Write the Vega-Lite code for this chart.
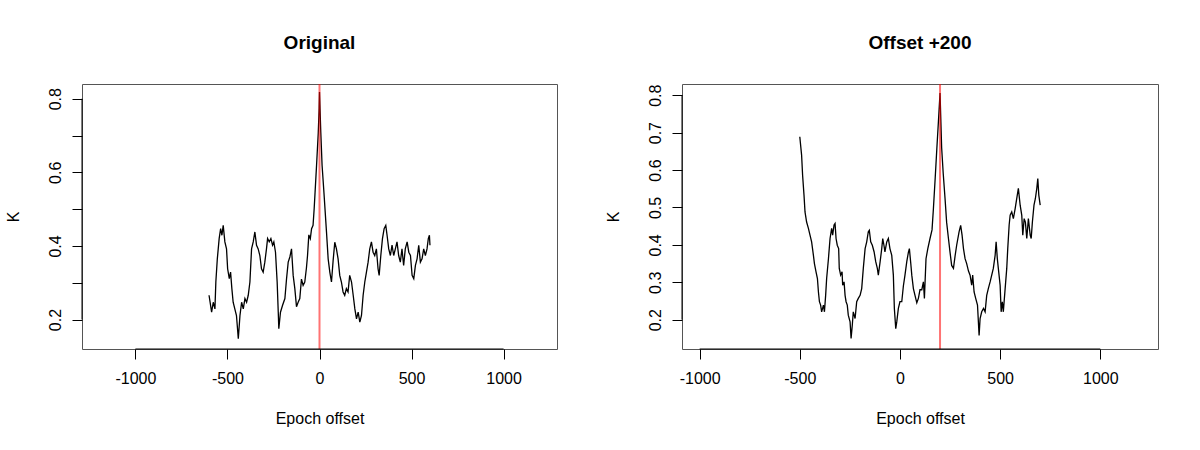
{
  "$schema": "https://vega.github.io/schema/vega-lite/v6.json",
  "background": "white",
  "padding": {"left": 4, "top": 33, "right": 42, "bottom": 20},
  "bounds": "flush",
  "spacing": 125,
  "config": {
    "font": "Liberation Sans",
    "view": {"stroke": "#555555", "strokeWidth": 1},
    "axis": {
      "labelFont": "Liberation Sans", "labelFontSize": 16, "labelColor": "black",
      "titleFont": "Liberation Sans", "titleFontSize": 16, "titleFontWeight": "normal", "titleColor": "black",
      "tickColor": "black", "tickSize": 10, "tickWidth": 1,
      "domain": false, "grid": false, "labelOverlap": false
    },
    "axisX": {"labelPadding": 11, "titlePadding": 24, "labelFlush": false},
    "axisY": {"labelAngle": 270, "labelAlign": "center", "labelBaseline": "bottom", "labelPadding": 9, "titlePadding": 26},
    "title": {"font": "Liberation Sans", "fontSize": 19, "fontWeight": "bold", "color": "black", "anchor": "middle", "baseline": "alphabetic", "offset": 30}
  },
  "datasets": {
    "orig": [
      {"epoch": -600, "K": 0.266}, {"epoch": -586, "K": 0.220}, {"epoch": -577, "K": 0.247}, {"epoch": -568, "K": 0.229},
      {"epoch": -563, "K": 0.302}, {"epoch": -555, "K": 0.365}, {"epoch": -545, "K": 0.420}, {"epoch": -537, "K": 0.447},
      {"epoch": -530, "K": 0.429}, {"epoch": -523, "K": 0.456}, {"epoch": -514, "K": 0.411}, {"epoch": -505, "K": 0.392},
      {"epoch": -499, "K": 0.338}, {"epoch": -490, "K": 0.311}, {"epoch": -483, "K": 0.329}, {"epoch": -476, "K": 0.284},
      {"epoch": -469, "K": 0.247}, {"epoch": -460, "K": 0.229}, {"epoch": -451, "K": 0.211}, {"epoch": -441, "K": 0.148},
      {"epoch": -432, "K": 0.211}, {"epoch": -423, "K": 0.247}, {"epoch": -414, "K": 0.229}, {"epoch": -405, "K": 0.257},
      {"epoch": -396, "K": 0.247}, {"epoch": -387, "K": 0.266}, {"epoch": -378, "K": 0.302}, {"epoch": -369, "K": 0.392},
      {"epoch": -360, "K": 0.411}, {"epoch": -351, "K": 0.438}, {"epoch": -342, "K": 0.402}, {"epoch": -333, "K": 0.392},
      {"epoch": -324, "K": 0.374}, {"epoch": -315, "K": 0.338}, {"epoch": -306, "K": 0.329}, {"epoch": -297, "K": 0.356},
      {"epoch": -288, "K": 0.392}, {"epoch": -282, "K": 0.420}, {"epoch": -273, "K": 0.411}, {"epoch": -264, "K": 0.420},
      {"epoch": -255, "K": 0.402}, {"epoch": -248, "K": 0.411}, {"epoch": -239, "K": 0.383}, {"epoch": -230, "K": 0.302},
      {"epoch": -224, "K": 0.220}, {"epoch": -221, "K": 0.175}, {"epoch": -212, "K": 0.220}, {"epoch": -201, "K": 0.238},
      {"epoch": -188, "K": 0.257}, {"epoch": -179, "K": 0.311}, {"epoch": -170, "K": 0.356}, {"epoch": -161, "K": 0.370},
      {"epoch": -152, "K": 0.392}, {"epoch": -143, "K": 0.320}, {"epoch": -134, "K": 0.284}, {"epoch": -125, "K": 0.235},
      {"epoch": -116, "K": 0.247}, {"epoch": -107, "K": 0.257}, {"epoch": -98, "K": 0.310}, {"epoch": -89, "K": 0.293},
      {"epoch": -80, "K": 0.302}, {"epoch": -71, "K": 0.340}, {"epoch": -65, "K": 0.374}, {"epoch": -58, "K": 0.430},
      {"epoch": -50, "K": 0.420}, {"epoch": -43, "K": 0.447}, {"epoch": -35, "K": 0.456}, {"epoch": -29, "K": 0.501},
      {"epoch": -16, "K": 0.619}, {"epoch": -7, "K": 0.705}, {"epoch": -2, "K": 0.773}, {"epoch": 0, "K": 0.818},
      {"epoch": 7, "K": 0.709}, {"epoch": 14, "K": 0.619}, {"epoch": 24, "K": 0.546}, {"epoch": 38, "K": 0.438},
      {"epoch": 47, "K": 0.365}, {"epoch": 56, "K": 0.329}, {"epoch": 65, "K": 0.302}, {"epoch": 74, "K": 0.360},
      {"epoch": 83, "K": 0.410}, {"epoch": 92, "K": 0.392}, {"epoch": 101, "K": 0.365}, {"epoch": 110, "K": 0.320},
      {"epoch": 119, "K": 0.302}, {"epoch": 128, "K": 0.275}, {"epoch": 137, "K": 0.266}, {"epoch": 146, "K": 0.284},
      {"epoch": 155, "K": 0.275}, {"epoch": 164, "K": 0.320}, {"epoch": 174, "K": 0.302}, {"epoch": 183, "K": 0.266},
      {"epoch": 192, "K": 0.229}, {"epoch": 201, "K": 0.202}, {"epoch": 210, "K": 0.220}, {"epoch": 219, "K": 0.193},
      {"epoch": 228, "K": 0.211}, {"epoch": 237, "K": 0.266}, {"epoch": 246, "K": 0.302}, {"epoch": 255, "K": 0.329},
      {"epoch": 264, "K": 0.356}, {"epoch": 273, "K": 0.392}, {"epoch": 282, "K": 0.411}, {"epoch": 291, "K": 0.383},
      {"epoch": 300, "K": 0.374}, {"epoch": 309, "K": 0.392}, {"epoch": 318, "K": 0.338}, {"epoch": 324, "K": 0.320},
      {"epoch": 333, "K": 0.374}, {"epoch": 342, "K": 0.420}, {"epoch": 351, "K": 0.447}, {"epoch": 360, "K": 0.456},
      {"epoch": 367, "K": 0.429}, {"epoch": 376, "K": 0.392}, {"epoch": 385, "K": 0.374}, {"epoch": 394, "K": 0.402},
      {"epoch": 403, "K": 0.374}, {"epoch": 412, "K": 0.392}, {"epoch": 421, "K": 0.411}, {"epoch": 430, "K": 0.374},
      {"epoch": 439, "K": 0.356}, {"epoch": 448, "K": 0.392}, {"epoch": 457, "K": 0.347}, {"epoch": 466, "K": 0.392},
      {"epoch": 476, "K": 0.411}, {"epoch": 485, "K": 0.383}, {"epoch": 494, "K": 0.374}, {"epoch": 503, "K": 0.320},
      {"epoch": 512, "K": 0.311}, {"epoch": 521, "K": 0.347}, {"epoch": 530, "K": 0.365}, {"epoch": 539, "K": 0.402},
      {"epoch": 548, "K": 0.356}, {"epoch": 557, "K": 0.365}, {"epoch": 566, "K": 0.392}, {"epoch": 575, "K": 0.374},
      {"epoch": 584, "K": 0.392}, {"epoch": 591, "K": 0.420}, {"epoch": 597, "K": 0.429}, {"epoch": 600, "K": 0.402}
    ],
    "off": [
      {"epoch": -500, "K": 0.689}, {"epoch": -491, "K": 0.640}, {"epoch": -486, "K": 0.586}, {"epoch": -479, "K": 0.533},
      {"epoch": -474, "K": 0.488}, {"epoch": -466, "K": 0.461}, {"epoch": -457, "K": 0.444}, {"epoch": -449, "K": 0.426},
      {"epoch": -441, "K": 0.408}, {"epoch": -432, "K": 0.372}, {"epoch": -427, "K": 0.350}, {"epoch": -419, "K": 0.328},
      {"epoch": -412, "K": 0.310}, {"epoch": -407, "K": 0.274}, {"epoch": -402, "K": 0.248}, {"epoch": -396, "K": 0.239},
      {"epoch": -391, "K": 0.221}, {"epoch": -382, "K": 0.239}, {"epoch": -377, "K": 0.221}, {"epoch": -371, "K": 0.265},
      {"epoch": -366, "K": 0.310}, {"epoch": -357, "K": 0.363}, {"epoch": -349, "K": 0.417}, {"epoch": -341, "K": 0.444},
      {"epoch": -336, "K": 0.426}, {"epoch": -329, "K": 0.453}, {"epoch": -324, "K": 0.457}, {"epoch": -319, "K": 0.417},
      {"epoch": -313, "K": 0.399}, {"epoch": -306, "K": 0.390}, {"epoch": -303, "K": 0.337}, {"epoch": -296, "K": 0.319},
      {"epoch": -289, "K": 0.328}, {"epoch": -286, "K": 0.292}, {"epoch": -279, "K": 0.301}, {"epoch": -274, "K": 0.265},
      {"epoch": -269, "K": 0.248}, {"epoch": -263, "K": 0.239}, {"epoch": -258, "K": 0.212}, {"epoch": -249, "K": 0.194},
      {"epoch": -244, "K": 0.150}, {"epoch": -238, "K": 0.185}, {"epoch": -233, "K": 0.221}, {"epoch": -224, "K": 0.203},
      {"epoch": -216, "K": 0.248}, {"epoch": -208, "K": 0.257}, {"epoch": -199, "K": 0.265}, {"epoch": -191, "K": 0.283},
      {"epoch": -183, "K": 0.337}, {"epoch": -174, "K": 0.390}, {"epoch": -166, "K": 0.408}, {"epoch": -158, "K": 0.435},
      {"epoch": -153, "K": 0.439}, {"epoch": -146, "K": 0.408}, {"epoch": -138, "K": 0.399}, {"epoch": -129, "K": 0.381},
      {"epoch": -121, "K": 0.355}, {"epoch": -113, "K": 0.337}, {"epoch": -108, "K": 0.319}, {"epoch": -99, "K": 0.355},
      {"epoch": -91, "K": 0.390}, {"epoch": -86, "K": 0.417}, {"epoch": -80, "K": 0.399}, {"epoch": -75, "K": 0.381},
      {"epoch": -66, "K": 0.408}, {"epoch": -58, "K": 0.417}, {"epoch": -50, "K": 0.390}, {"epoch": -41, "K": 0.372},
      {"epoch": -33, "K": 0.319}, {"epoch": -28, "K": 0.230}, {"epoch": -21, "K": 0.176}, {"epoch": -16, "K": 0.194},
      {"epoch": -8, "K": 0.230}, {"epoch": 0, "K": 0.248}, {"epoch": 9, "K": 0.248}, {"epoch": 17, "K": 0.290},
      {"epoch": 25, "K": 0.319}, {"epoch": 34, "K": 0.355}, {"epoch": 42, "K": 0.380}, {"epoch": 47, "K": 0.390},
      {"epoch": 54, "K": 0.350}, {"epoch": 59, "K": 0.319}, {"epoch": 67, "K": 0.283}, {"epoch": 75, "K": 0.265},
      {"epoch": 84, "K": 0.245}, {"epoch": 92, "K": 0.257}, {"epoch": 100, "K": 0.280}, {"epoch": 109, "K": 0.280},
      {"epoch": 117, "K": 0.301}, {"epoch": 122, "K": 0.257}, {"epoch": 130, "K": 0.363}, {"epoch": 139, "K": 0.390},
      {"epoch": 150, "K": 0.417}, {"epoch": 160, "K": 0.440}, {"epoch": 167, "K": 0.497}, {"epoch": 176, "K": 0.580},
      {"epoch": 184, "K": 0.657}, {"epoch": 192, "K": 0.730}, {"epoch": 200, "K": 0.806}, {"epoch": 208, "K": 0.660},
      {"epoch": 216, "K": 0.590}, {"epoch": 225, "K": 0.524}, {"epoch": 233, "K": 0.460}, {"epoch": 242, "K": 0.417},
      {"epoch": 250, "K": 0.380}, {"epoch": 258, "K": 0.345}, {"epoch": 267, "K": 0.337}, {"epoch": 275, "K": 0.370},
      {"epoch": 283, "K": 0.399}, {"epoch": 295, "K": 0.435}, {"epoch": 303, "K": 0.452}, {"epoch": 310, "K": 0.426},
      {"epoch": 317, "K": 0.390}, {"epoch": 325, "K": 0.363}, {"epoch": 333, "K": 0.350}, {"epoch": 342, "K": 0.330},
      {"epoch": 350, "K": 0.319}, {"epoch": 358, "K": 0.292}, {"epoch": 363, "K": 0.319}, {"epoch": 370, "K": 0.274},
      {"epoch": 378, "K": 0.257}, {"epoch": 387, "K": 0.239}, {"epoch": 395, "K": 0.158}, {"epoch": 400, "K": 0.203},
      {"epoch": 408, "K": 0.221}, {"epoch": 417, "K": 0.230}, {"epoch": 425, "K": 0.221}, {"epoch": 433, "K": 0.265},
      {"epoch": 441, "K": 0.283}, {"epoch": 450, "K": 0.301}, {"epoch": 458, "K": 0.319}, {"epoch": 466, "K": 0.337},
      {"epoch": 475, "K": 0.372}, {"epoch": 480, "K": 0.408}, {"epoch": 486, "K": 0.363}, {"epoch": 491, "K": 0.337},
      {"epoch": 500, "K": 0.292}, {"epoch": 505, "K": 0.221}, {"epoch": 511, "K": 0.248}, {"epoch": 516, "K": 0.221},
      {"epoch": 525, "K": 0.283}, {"epoch": 533, "K": 0.337}, {"epoch": 538, "K": 0.390}, {"epoch": 545, "K": 0.453},
      {"epoch": 550, "K": 0.479}, {"epoch": 558, "K": 0.488}, {"epoch": 566, "K": 0.470}, {"epoch": 575, "K": 0.497},
      {"epoch": 583, "K": 0.524}, {"epoch": 591, "K": 0.551}, {"epoch": 600, "K": 0.506}, {"epoch": 608, "K": 0.479},
      {"epoch": 613, "K": 0.426}, {"epoch": 620, "K": 0.470}, {"epoch": 626, "K": 0.461}, {"epoch": 633, "K": 0.417},
      {"epoch": 641, "K": 0.470}, {"epoch": 650, "K": 0.426}, {"epoch": 655, "K": 0.417}, {"epoch": 661, "K": 0.461},
      {"epoch": 669, "K": 0.506}, {"epoch": 676, "K": 0.524}, {"epoch": 683, "K": 0.551}, {"epoch": 688, "K": 0.577},
      {"epoch": 693, "K": 0.533}, {"epoch": 700, "K": 0.506}
    ]
  },
  "hconcat": [
    {
      "width": 475, "height": 265,
      "title": {"text": "Original"},
      "layer": [
        {
          "data": {"name": "orig"},
          "mark": {"type": "line", "color": "black", "strokeWidth": 1.3},
          "encoding": {
            "x": {"field": "epoch", "type": "quantitative", "title": "Epoch offset",
                  "scale": {"domain": [-1290, 1290], "nice": false, "zero": false},
                  "axis": {"values": [-1000, -500, 0, 500, 1000], "labelExpr": "'' + datum.value"}},
            "y": {"field": "K", "type": "quantitative", "title": "K",
                  "scale": {"domain": [0.12, 0.84], "nice": false, "zero": false},
                  "axis": {"values": [0.2, 0.3, 0.4, 0.5, 0.6, 0.7, 0.8], "labelExpr": "(round(datum.value*10) % 2 == 0) ? format(datum.value, '.1f') : ''"}}
          }
        },
        {
          "data": {"values": [{}]},
          "mark": {"type": "rule", "color": "red", "opacity": 0.55, "strokeWidth": 2},
          "encoding": {"x": {"datum": 0}}
        },
        {
          "data": {"values": [{}]},
          "mark": {"type": "rule", "color": "black", "strokeWidth": 1},
          "encoding": {"x": {"datum": -1000}, "x2": {"datum": 1000}, "y": {"datum": 0.12}}
        },
        {
          "data": {"values": [{}]},
          "mark": {"type": "rule", "color": "black", "strokeWidth": 1},
          "encoding": {"y": {"datum": 0.2}, "y2": {"datum": 0.8}, "x": {"datum": -1290}}
        }
      ]
    },
    {
      "width": 476, "height": 265,
      "title": {"text": "Offset +200"},
      "layer": [
        {
          "data": {"name": "off"},
          "mark": {"type": "line", "color": "black", "strokeWidth": 1.3},
          "encoding": {
            "x": {"field": "epoch", "type": "quantitative", "title": "Epoch offset",
                  "scale": {"domain": [-1088, 1288], "nice": false, "zero": false},
                  "axis": {"values": [-1000, -500, 0, 500, 1000], "labelExpr": "'' + datum.value"}},
            "y": {"field": "K", "type": "quantitative", "title": "K",
                  "scale": {"domain": [0.1216, 0.83], "nice": false, "zero": false},
                  "axis": {"values": [0.2, 0.3, 0.4, 0.5, 0.6, 0.7, 0.8], "format": ".1f"}}
          }
        },
        {
          "data": {"values": [{}]},
          "mark": {"type": "rule", "color": "red", "opacity": 0.55, "strokeWidth": 2},
          "encoding": {"x": {"datum": 200}}
        },
        {
          "data": {"values": [{}]},
          "mark": {"type": "rule", "color": "black", "strokeWidth": 1},
          "encoding": {"x": {"datum": -1000}, "x2": {"datum": 1000}, "y": {"datum": 0.1216}}
        },
        {
          "data": {"values": [{}]},
          "mark": {"type": "rule", "color": "black", "strokeWidth": 1},
          "encoding": {"y": {"datum": 0.2}, "y2": {"datum": 0.8}, "x": {"datum": -1088}}
        }
      ]
    }
  ]
}
